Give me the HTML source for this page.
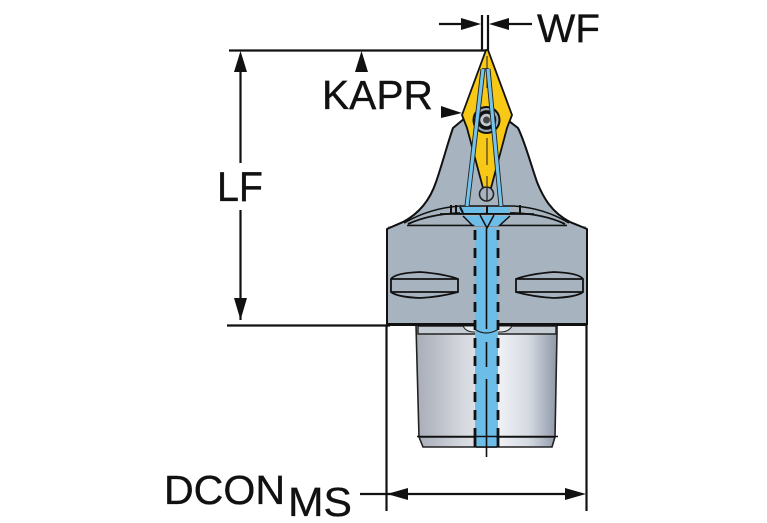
<!DOCTYPE html>
<html><head><meta charset="utf-8"><style>
html,body{margin:0;padding:0;background:#fff}
svg{display:block}
text{font-family:"Liberation Sans",sans-serif;fill:#111;stroke:#111;stroke-width:.35}
</style></head><body>
<svg width="767" height="523" viewBox="0 0 767 523" xmlns="http://www.w3.org/2000/svg">
<defs>
<linearGradient id="g" x1="0" x2="1" y1="0" y2="0">
<stop offset="0" stop-color="#a9adb8"/><stop offset="0.14" stop-color="#b9bdc6"/><stop offset="0.33" stop-color="#d5d8de"/><stop offset="0.6" stop-color="#eef0f4"/><stop offset="0.8" stop-color="#d5dae2"/><stop offset="1" stop-color="#8f98a8"/>
</linearGradient>
</defs>
<!-- dimension lines -->
<g stroke="#111" stroke-width="2.200" fill="none">
<path d="M229 50.500H487"/>
<path d="M227 325.500H390"/>
<path d="M240.500 55V163M240.500 210V320"/>
<path d="M482 15V50M488 15V50"/>
<path d="M439 24H476M494 24H532"/>
<path d="M386.500 325V511M586.500 325V511"/>
<path d="M360 494H580"/>
</g>
<g fill="#111">
<path d="M240.500 51L234 72H247Z"/>
<path d="M240.500 320L234 298H247Z"/>
<path d="M361.500 51L355 72H368Z"/>
<path d="M462 113L441 106V118Z"/>
<path d="M481 24L461 18V30Z"/>
<path d="M489 24L509 18V30Z"/>
<path d="M387 494L408 488V500Z"/>
<path d="M586 494L565 488V500Z"/>
</g>
<!-- neck -->
<path d="M453 128C448 142 442 165 436 182C431 197 422 212 403 222L387 229V313H587V229L570 222C551 212 543 197 537 182C531 165 525 142 518 128L505 118H465Z" fill="#a7b4c0" stroke="#111" stroke-width="2" stroke-linejoin="round"/>
<path d="M404 223Q430 208 460 206H514Q544 208 569 223" fill="none" stroke="#111" stroke-width="1.600"/>
<path d="M408 224Q430 214 460 213H514Q544 214 565 224" fill="none" stroke="#111" stroke-width="1.800"/>
<path d="M407 225.500H567" stroke="#111" stroke-width="1.500"/>
<!-- lower cylinder -->
<path d="M416 325H557V332L555 437L552 447H423L419 437Z" fill="url(#g)" stroke="#222" stroke-width="1.600"/>
<path d="M418 326H556V334H418Z" fill="#c6ccd4" stroke="#222" stroke-width="1.400"/>
<path d="M463 326Q466 332 474 332H500Q509 332 512 326Z" fill="#e8ebee" stroke="#222" stroke-width="1"/>
<path d="M420 437H555" stroke="#111" stroke-width="1.500"/>
<!-- body base -->
<rect x="388" y="226" width="198" height="98" fill="#a7b4c0"/>
<path d="M387 229V324H587V229" fill="none" stroke="#111" stroke-width="2"/>
<path d="M387 229L403 222M587 229L570 222" stroke="#111" stroke-width="1.800"/>
<path d="M407 225.500H567" stroke="#111" stroke-width="1.500"/>
<path d="M387 324.500H587" stroke="#111" stroke-width="3"/>
<!-- slots -->
<g fill="#a7b4c0" stroke="#111" stroke-width="1.800">
<path d="M391 279Q395 273 420 272Q445 274 458 279V292Q440 297 420 298Q397 297 391 292Z"/>
<path d="M583 279Q579 273 554 272Q529 274 516 279V292Q534 297 554 298Q577 297 583 292Z"/>
<path d="M391 279H458M391 292H458M516 279H583M516 292H583" fill="none"/>
</g>
<!-- bore -->
<rect x="475" y="228" width="23" height="219" fill="#6dbde9"/>
<path d="M463 216H510L498 226H475Z" fill="#6dbde9"/>
<path d="M460 207H482L486 213H460ZM488 207H510V213H488Z" fill="#6dbde9"/>
<path d="M475 230V447M498 230V447" stroke="#111" stroke-width="2.800" stroke-dasharray="10 8" fill="none"/>
<path d="M475 436V447M498 436V447" stroke="#111" stroke-width="2.800"/>
<path d="M486.500 228V329M486.500 342V367M486.500 379V457" stroke="#111" stroke-width="1.600" fill="none"/>
<path d="M463 216L473 226M510 216L499 226M480 215L487 228L494 215" stroke="#111" stroke-width="1.500" fill="none"/>
<path d="M476 330Q486 336 497 330" stroke="#222" stroke-width="1.200" fill="none"/>
<path d="M417 436.500H558M476 447H497" stroke="#111" stroke-width="1.500"/>
<path d="M417 447H558" stroke="#222" stroke-width="0"/>
<path d="M451 205V214M456 205V214M520 205V214M460 207L463 213M487 206V214" stroke="#111" stroke-width="2"/>
<path d="M408 214.500H566" stroke="none"/>
<path d="M440 214H534" stroke="#111" stroke-width="1.800"/>
<!-- insert -->
<path d="M486 50L462 115L467 128L483 188H491L507 128L512 115L488 50Z" fill="#f7c815" stroke="#111" stroke-width="1.800" stroke-linejoin="round"/>
<!-- screw -->
<circle cx="486.500" cy="120" r="13" fill="#9aa7b4" stroke="#111" stroke-width="2"/>
<circle cx="486.500" cy="120" r="8" fill="#c2cad0" stroke="#111" stroke-width="3.500"/>
<circle cx="486.500" cy="120" r="3.500" fill="#444"/>
<!-- ball -->
<circle cx="486.500" cy="194" r="7" fill="#a7b4c0" stroke="#222" stroke-width="1.600"/>
<path d="M487 187V201" stroke="#222" stroke-width="1.300"/>
<path d="M487 56V88M487 138V165M487 176V187" stroke="#54432a" stroke-width="1.300"/>
<!-- coolant tubes -->
<path d="M483 69L467 206M488 69L501 206" fill="none" stroke="#222" stroke-width="5"/>
<path d="M482 69H489" stroke="#222" stroke-width="1.600"/>
<path d="M483 69L467 206M488 69L501 206" fill="none" stroke="#73c3eb" stroke-width="3.200"/>
<!-- labels -->
<text x="537" y="42" font-size="40" textLength="63" lengthAdjust="spacingAndGlyphs">WF</text>
<text x="322" y="109" font-size="41" textLength="111" lengthAdjust="spacingAndGlyphs">KAPR</text>
<text x="217" y="201" font-size="42" textLength="46" lengthAdjust="spacingAndGlyphs">LF</text>
<text x="164" y="504" font-size="41" textLength="121" lengthAdjust="spacingAndGlyphs">DCON</text>
<text x="288" y="516" font-size="41" textLength="64" lengthAdjust="spacingAndGlyphs">MS</text>
</svg>
</body></html>
